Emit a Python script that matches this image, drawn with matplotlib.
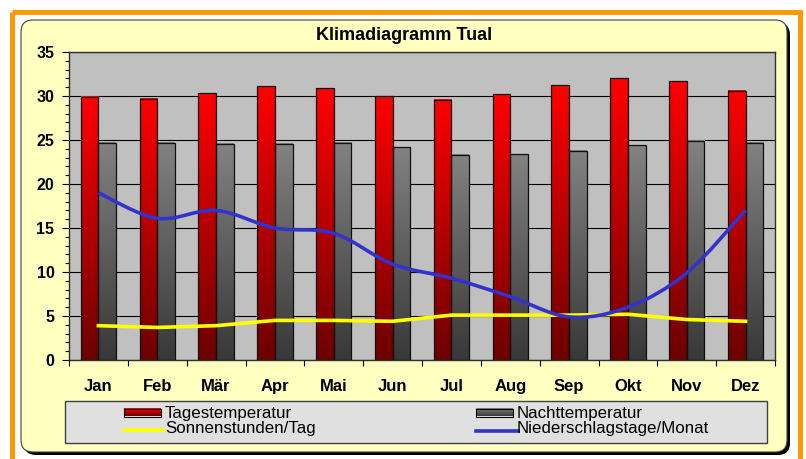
import numpy as np
import matplotlib
matplotlib.use("Agg")
import matplotlib.pyplot as plt
from matplotlib.patches import Rectangle, FancyBboxPatch, PathPatch
from matplotlib.path import Path
from matplotlib.colors import LinearSegmentedColormap

plt.rcParams['font.family'] = ['Liberation Sans', 'DejaVu Sans']

# data
months = ['Jan', 'Feb', 'Mär', 'Apr', 'Mai', 'Jun', 'Jul', 'Aug', 'Sep', 'Okt', 'Nov', 'Dez']
tagestemp = [29.9, 29.7, 30.3, 31.1, 30.9, 30.0, 29.6, 30.2, 31.2, 32.0, 31.7, 30.6]
nachttemp = [24.7, 24.7, 24.6, 24.6, 24.7, 24.2, 23.3, 23.4, 23.8, 24.4, 24.9, 24.7]
sonne = [3.9, 3.7, 3.9, 4.5, 4.5, 4.4, 5.1, 5.1, 5.1, 5.2, 4.6, 4.4]
regentage = [19.0, 16.1, 17.0, 15.0, 14.4, 10.9, 9.3, 7.2, 4.9, 6.0, 9.9, 17.0]

title = 'Klimadiagramm Tual'
labels = ['Tagestemperatur', 'Sonnenstunden/Tag', 'Nachttemperatur', 'Niederschlagstage/Monat']

red_cmap = LinearSegmentedColormap.from_list('red', ['#6C0000', '#FF0000'])
gray_cmap = LinearSegmentedColormap.from_list('gray', ['#383838', '#828282'])
grad = np.linspace(0, 1, 256).reshape(-1, 1)


def smooth_path(xs, ys):
    """Bezier path through the points (Excel style smoothed line)."""
    n = len(xs)
    verts = [(xs[0], ys[0])]
    codes = [Path.MOVETO]
    for i in range(n - 1):
        a = max(i - 1, 0)
        b = min(i + 2, n - 1)
        c1 = (xs[i] + (xs[i + 1] - xs[a]) / 6, ys[i] + (ys[i + 1] - ys[a]) / 6)
        c2 = (xs[i + 1] - (xs[b] - xs[i]) / 6, ys[i + 1] - (ys[b] - ys[i]) / 6)
        verts += [c1, c2, (xs[i + 1], ys[i + 1])]
        codes += [Path.CURVE4] * 3
    return Path(verts, codes)


fig = plt.figure(figsize=(8.06, 4.59), dpi=100)

# background in pixel coordinates
bg = fig.add_axes([0, 0, 1, 1], zorder=0)
bg.axis('off')
bg.add_patch(Rectangle((11.5, 12), 788, 470, fill=False, ec='#FF9900', lw=3.6))
bg.add_patch(FancyBboxPatch((24, 23), 766, 432, boxstyle='round,pad=0,rounding_size=12',
                            fc='black', ec='none'))
bg.add_patch(FancyBboxPatch((21, 20), 766, 432, boxstyle='round,pad=0,rounding_size=12',
                            fc='#FFFFC0', ec='#404040', lw=0.8))
bg.text(404.5, 36, title, ha='center', va='center', fontsize=13, weight='bold')

# legend
bg.add_patch(Rectangle((65, 401), 702, 42, fc='#E0E0E0', ec='#404040', lw=1))
for x0, cm in [(124, red_cmap), (476, gray_cmap)]:
    bg.imshow(grad, extent=[x0, x0 + 37, 416.5, 408.5], origin='lower', cmap=cm,
              aspect='auto', zorder=3)
    bg.add_patch(Rectangle((x0, 408.5), 37, 8, fill=False, ec='black', lw=0.8, zorder=4))
bg.plot([124, 164], [430, 430], color='#FFFF00', lw=2.6)
bg.plot([476, 518], [431, 431], color='#3333CC', lw=2.6)
bg.text(165, 418, labels[0], fontsize=12.2, va='baseline')
bg.text(165, 433.5, labels[1], fontsize=12.2, va='baseline')
bg.text(517, 418, labels[2], fontsize=12.2, va='baseline')
bg.text(517, 433.5, labels[3], fontsize=12.2, va='baseline')
bg.set_xlim(0, 806)
bg.set_ylim(459, 0)

# chart
ax = fig.add_axes([69 / 806, 99 / 459, 706 / 806, 308 / 459], zorder=1)
ax.set_facecolor('#C0C0C0')
x = np.arange(1, 13)

red_bars = ax.bar(x - 0.15, tagestemp, 0.3, fc='none', ec='#101010', lw=0.9, zorder=3)
gray_bars = ax.bar(x + 0.15, nachttemp, 0.3, fc='none', ec='#101010', lw=0.9, zorder=3)
for bars, cm in [(red_bars, red_cmap), (gray_bars, gray_cmap)]:
    for bar in bars:
        ax.imshow(grad, extent=[bar.get_x(), bar.get_x() + bar.get_width(), 0, bar.get_height()],
                  origin='lower', cmap=cm, aspect='auto', zorder=2.5)

ax.plot(x, sonne, color='#FFFF00', lw=2.6, zorder=4)
ax.add_patch(PathPatch(smooth_path(x, regentage), fill=False, ec='#3333CC', lw=2.6, zorder=5))

ax.set_xlim(0.5, 12.5)
ax.set_ylim(0, 35)

ax.set_xticks(np.arange(0.5, 13, 1))
ax.set_xticklabels([])
ax.set_xticks(x, minor=True)
ax.set_xticklabels(months, minor=True, fontsize=12, weight='bold')
ax.tick_params(axis='x', which='major', length=4.5, direction='out', width=0.8)
ax.tick_params(axis='x', which='minor', length=0, pad=14)

ax.set_yticks(range(0, 36, 5))
ax.set_yticks(range(0, 36, 1), minor=True)
for lab in ax.get_yticklabels():
    lab.set_fontsize(11.5)
    lab.set_fontweight('bold')
ax.tick_params(axis='y', which='major', length=5, direction='out', pad=5.5, width=0.8)
ax.tick_params(axis='y', which='minor', length=3, direction='out', width=0.8)

ax.set_axisbelow(True)
ax.yaxis.grid(True, which='major', color='black', lw=0.8)
for s in ax.spines.values():
    s.set_color('#303030')
    s.set_linewidth(1)

fig.savefig('out.png', dpi=100)
